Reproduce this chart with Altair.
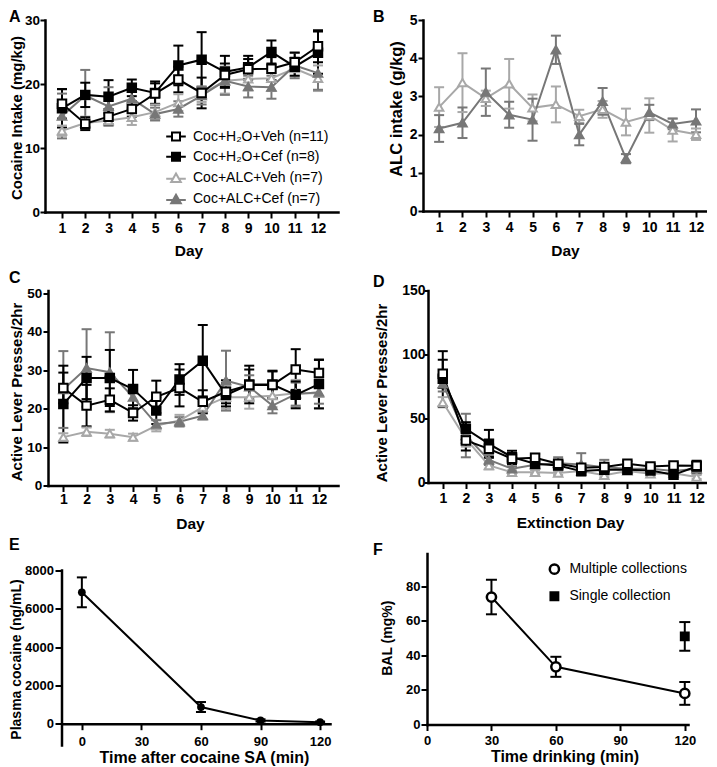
import altair as alt
import pandas as pd

FONT = "Liberation Sans"

# ---------------- shared series definitions ----------------
SERIES = ["Coc+H₂O+Veh (n=11)", "Coc+H₂O+Cef (n=8)", "Coc+ALC+Veh (n=7)", "Coc+ALC+Cef (n=7)"]
SERIES_STROKE = ["#000000", "#000000", "#a8a8a8", "#777777"]
SERIES_FILL = ["#ffffff", "#000000", "#ffffff", "#777777"]
SERIES_SHAPE = ["square", "square", "triangle-up", "triangle-up"]
LEGEND_SHAPE = [
    "M-2.45,0H-1M1,0H2.45M-1,-1H1V1H-1Z",
    "M-2.45,0H-1M1,0H2.45M-1,-1H1V1H-1Z",
    "M-2.45,0.15H-0.6M0.6,0.15H2.45M0,-1.15L1.2,0.95H-1.2Z",
    "M-2.45,0.15H-0.6M0.6,0.15H2.45M0,-1.15L1.2,0.95H-1.2Z",
]

DAYS = list(range(1, 13))

# ---------------- Panel A: cocaine intake (mg/kg) ----------------
A_H2O_VEH = [16.9, 13.8, 14.9, 16.1, 18.5, 20.7, 18.6, 21.4, 22.3, 22.4, 23.4, 25.9]
A_H2O_VEH_SEM = [2.3, 1.0, 1.2, 1.2, 1.6, 2.0, 2.4, 1.8, 1.6, 1.8, 1.5, 2.5]
A_H2O_CEF = [16.2, 18.3, 18.0, 19.4, 18.6, 22.9, 23.8, 21.9, 22.6, 25.0, 22.7, 24.9]
A_H2O_CEF_SEM = [3.0, 1.9, 2.6, 1.3, 1.8, 3.1, 4.3, 2.5, 1.8, 1.8, 1.4, 3.3]
A_ALC_VEH = [12.7, 13.9, 14.3, 14.8, 15.6, 17.1, 18.4, 20.5, 20.8, 20.9, 22.4, 20.9]
A_ALC_VEH_SEM = [0.8, 1.0, 0.8, 1.2, 1.2, 1.3, 1.2, 2.0, 1.8, 2.0, 1.2, 2.0]
A_ALC_CEF = [15.0, 18.2, 16.5, 17.7, 15.3, 16.1, 18.2, 20.5, 19.6, 19.5, 22.9, 21.7]
A_ALC_CEF_SEM = [3.5, 4.0, 3.0, 1.5, 1.0, 1.2, 1.4, 2.2, 1.7, 1.8, 2.0, 2.6]

# ---------------- Panel B: ALC intake (g/kg) ----------------
B_ALC_VEH = [2.72, 3.36, 2.95, 3.33, 2.70, 2.79, 2.48, 2.66, 2.33, 2.50, 2.12, 2.01]
B_ALC_VEH_SEM = [0.52, 0.77, 0.20, 0.65, 0.35, 0.47, 0.17, 0.22, 0.35, 0.45, 0.30, 0.15]
B_ALC_CEF = [2.16, 2.31, 3.11, 2.52, 2.39, 4.22, 2.00, 2.87, 1.37, 2.58, 2.28, 2.36]
B_ALC_CEF_SEM = [0.35, 0.40, 0.62, 0.34, 0.55, 0.37, 0.28, 0.35, 0.12, 0.20, 0.14, 0.30]

# ---------------- Panel C: active lever presses (SA) ----------------
C_H2O_VEH = [25.4, 20.8, 22.3, 18.9, 23.1, 25.4, 21.8, 24.4, 26.2, 26.2, 30.2, 29.3]
C_H2O_VEH_SEM = [4.0, 5.4, 3.0, 2.0, 4.2, 4.8, 3.0, 3.0, 4.0, 3.5, 5.3, 3.5]
C_H2O_CEF = [21.2, 28.0, 28.0, 25.1, 19.5, 27.6, 32.5, 23.6, 26.3, 26.3, 23.6, 26.4]
C_H2O_CEF_SEM = [10.0, 5.5, 7.3, 5.0, 3.5, 4.0, 9.3, 3.0, 4.9, 3.6, 3.5, 6.3]
C_ALC_VEH = [12.6, 14.0, 13.5, 12.6, 15.6, 16.9, 20.4, 23.0, 23.0, 23.4, 24.0, 24.0]
C_ALC_VEH_SEM = [1.0, 1.1, 1.0, 0.9, 1.5, 1.5, 1.5, 3.0, 3.0, 3.0, 3.5, 4.0]
C_ALC_CEF = [25.0, 30.6, 29.5, 23.0, 16.0, 16.6, 18.2, 27.3, 25.7, 20.8, 23.8, 24.3]
C_ALC_CEF_SEM = [10.0, 10.1, 10.4, 3.0, 1.0, 1.2, 1.0, 7.8, 3.0, 2.0, 3.0, 3.0]

# ---------------- Panel D: active lever presses (extinction) ----------------
D_H2O_VEH = [84.9, 32.8, 26.3, 18.5, 19.3, 14.6, 11.5, 12.1, 14.6, 12.5, 13.3, 13.0]
D_H2O_VEH_SEM = [11.0, 7.8, 6.0, 4.0, 3.0, 3.0, 2.0, 2.0, 2.0, 2.0, 2.0, 3.0]
D_H2O_CEF = [81.0, 41.9, 30.2, 19.8, 14.6, 13.3, 8.9, 10.0, 10.0, 9.4, 6.0, 12.5]
D_H2O_CEF_SEM = [21.6, 5.2, 10.9, 5.0, 3.0, 3.0, 2.0, 2.0, 2.0, 2.0, 1.5, 4.5]
D_ALC_VEH = [62.7, 34.0, 13.3, 8.0, 8.0, 7.4, 8.9, 5.6, 8.9, 6.8, 7.3, 4.3]
D_ALC_VEH_SEM = [4.0, 6.0, 3.0, 1.5, 1.5, 1.5, 1.5, 1.5, 1.5, 1.5, 1.5, 1.5]
D_ALC_CEF = [77.1, 36.7, 17.7, 10.7, 13.8, 15.0, 14.1, 12.0, 10.7, 10.7, 8.9, 10.7]
D_ALC_CEF_SEM = [6.0, 17.0, 4.0, 2.0, 3.0, 4.8, 8.8, 5.7, 3.0, 3.0, 3.0, 4.0]

# ---------------- Panel E: plasma cocaine ----------------
E_TIME = [0, 60, 90, 120]
E_MEAN = [6860, 870, 170, 80]
E_SEM = [780, 260, 60, 30]
E_XDOM = [-10, 125]
E_YDOM = [-1140, 8888]
E_YTICKS = [0, 2000, 4000, 6000, 8000]

# ---------------- Panel F: BAL ----------------
F_GROUPS = ["Multiple collections", "Single collection"]
F_SHAPES = ["circle", "square"]
F_FILLS = ["#ffffff", "#000000"]
F_SIZES = [85, 55]
F_MULTI_TIME = [30, 60, 120]
F_MULTI_MEAN = [73.8, 33.4, 18.0]
F_MULTI_SEM = [10.0, 5.8, 6.6]
F_SINGLE_TIME = [120]
F_SINGLE_MEAN = [51.0]
F_SINGLE_SEM = [8.3]


def series_df(x, groups):
    rows = []
    for name, means, sems in groups:
        for xi, mi, si in zip(x, means, sems):
            rows.append({"g": name, "x": xi, "m": mi, "lo": mi - si, "hi": mi + si})
    return pd.DataFrame(rows)


def title_params(letter, dx, offset):
    return alt.TitleParams(text=letter, anchor="start", frame="group", fontSize=16,
                           font=FONT, fontWeight="bold", color="black", dx=dx, offset=offset)


def group_panel(letter, groups, xdom, ydom, yvals, w, h, ytitle, xtitle,
                xax_kw, yax_kw, tdx, toff, legend=None):
    df = series_df(DAYS, groups)
    xsc = alt.Scale(domain=xdom, nice=False, zero=False)
    ysc = alt.Scale(domain=ydom, nice=False, zero=False)
    xax = alt.Axis(values=DAYS, title=xtitle, labelOverlap=False, labelFlush=False, **xax_kw)
    yax = alt.Axis(values=yvals, title=ytitle, labelOverlap=False, labelFlush=False, **yax_kw)
    X = alt.X("x:Q", scale=xsc, axis=xax)

    def Y(f):
        return alt.Y(f"{f}:Q", scale=ysc, axis=yax)

    stroke = alt.Stroke("g:N", scale=alt.Scale(domain=SERIES, range=SERIES_STROKE), legend=None)
    color = alt.Color("g:N", scale=alt.Scale(domain=SERIES, range=SERIES_STROKE), legend=None)
    fill = alt.Fill("g:N", scale=alt.Scale(domain=SERIES, range=SERIES_FILL), legend=None)
    shape = alt.Shape("g:N", scale=alt.Scale(domain=SERIES, range=SERIES_SHAPE), legend=None)
    base = alt.Chart(df)
    rules = base.mark_rule(strokeWidth=2).encode(x=X, y=Y("lo"), y2=alt.Y2("hi:Q"), stroke=stroke)
    cap_lo = base.mark_tick(orient="horizontal", size=10, thickness=2, opacity=1).encode(x=X, y=Y("lo"), color=color)
    cap_hi = base.mark_tick(orient="horizontal", size=10, thickness=2, opacity=1).encode(x=X, y=Y("hi"), color=color)
    line = base.mark_line(strokeWidth=2).encode(x=X, y=Y("m"), stroke=stroke)
    pts = base.mark_point(opacity=1, size=72, strokeWidth=2, filled=False).encode(
        x=X, y=Y("m"), stroke=stroke, fill=fill, shape=shape)
    layers = [rules, cap_lo, cap_hi, line, pts]
    if legend is not None:
        leg = base.transform_filter("false").mark_point(opacity=1, size=64, strokeWidth=2).encode(
            x=X, y=Y("m"),
            stroke=alt.Stroke("g:N", scale=alt.Scale(domain=SERIES, range=SERIES_STROKE), legend=legend),
            fill=alt.Fill("g:N", scale=alt.Scale(domain=SERIES, range=SERIES_FILL), legend=legend),
            shape=alt.Shape("g:N", scale=alt.Scale(domain=SERIES, range=LEGEND_SHAPE), legend=legend),
        )
        layers.append(leg)
    return alt.layer(*layers).resolve_scale(
        stroke="independent", fill="independent", shape="independent", color="independent"
    ).properties(width=w, height=h, title=title_params(letter, tdx, toff))


def spacer(w):
    return alt.Chart(pd.DataFrame({"v": [0]})).mark_point(opacity=0, size=1).properties(width=w, height=1)


ORDER4 = lambda veh, veh_s, cef, cef_s, aveh, aveh_s, acef, acef_s: [
    (SERIES[2], aveh, aveh_s), (SERIES[3], acef, acef_s), (SERIES[1], cef, cef_s), (SERIES[0], veh, veh_s)]

LEG_A = alt.Legend(title=None, orient="none", legendX=124, legendY=109.5, labelFont=FONT,
                   labelFontSize=14, labelFontWeight="normal", labelColor="black", labelLimit=400,
                   symbolSize=64, symbolStrokeWidth=2, rowPadding=4.3, labelOffset=10, padding=0,
                   symbolFillColor="#ffffff", symbolStrokeColor="#000000")

panel_a = group_panel(
    "A", ORDER4(A_H2O_VEH, A_H2O_VEH_SEM, A_H2O_CEF, A_H2O_CEF_SEM, A_ALC_VEH, A_ALC_VEH_SEM, A_ALC_CEF, A_ALC_CEF_SEM),
    [0.27, 12.86], [0, 30], [0, 10, 20, 30], 293, 192, "Cocaine Intake (mg/kg)", "Day",
    dict(titleX=143.5, titleY=43, labelPadding=14.3, tickSize=6, labelFontSize=14, titleFontSize=15.5),
    dict(titleX=-21, titleY=97.5, labelPadding=0.5, tickSize=5, labelFontSize=13.5, titleFontSize=15),
    -36, -11.5, legend=LEG_A)

panel_b = group_panel(
    "B", [(SERIES[2], B_ALC_VEH, B_ALC_VEH_SEM), (SERIES[3], B_ALC_CEF, B_ALC_CEF_SEM)],
    [0.31, 12.47], [0, 5], [0, 1, 2, 3, 4, 5], 284, 191, "ALC intake (g/kg)", "Day",
    dict(titleX=142, titleY=44, labelPadding=14, tickSize=6, labelFontSize=14, titleFontSize=15.5),
    dict(titleX=-19, titleY=88.5, labelPadding=1, tickSize=5, labelFontSize=14, titleFontSize=16.5),
    -50, -11.5)

panel_c = group_panel(
    "C", ORDER4(C_H2O_VEH, C_H2O_VEH_SEM, C_H2O_CEF, C_H2O_CEF_SEM, C_ALC_VEH, C_ALC_VEH_SEM, C_ALC_CEF, C_ALC_CEF_SEM),
    [0.34, 12.82], [0, 50.78], [0, 10, 20, 30, 40, 50], 290, 195, "Active Lever Presses/2hr", "Day",
    dict(titleX=142, titleY=43, labelPadding=12.3, tickSize=6, labelFontSize=14, titleFontSize=15.5),
    dict(titleX=-24, titleY=101, labelPadding=1.3, tickSize=5, labelFontSize=13.5, titleFontSize=15),
    -39, 0.5)

panel_d = group_panel(
    "D", ORDER4(D_H2O_VEH, D_H2O_VEH_SEM, D_H2O_CEF, D_H2O_CEF_SEM, D_ALC_VEH, D_ALC_VEH_SEM, D_ALC_CEF, D_ALC_CEF_SEM),
    [0.36, 12.45], [0, 150], [0, 50, 100, 150], 279, 192, "Active Lever Presses/2hr", "Extinction Day",
    dict(titleX=142, titleY=45, labelPadding=13.7, tickSize=6, labelFontSize=14, titleFontSize=15.5),
    dict(titleX=-38.5, titleY=102, labelPadding=-1, tickSize=4, labelFontSize=14, titleFontSize=15),
    -55, -6.5)

# ---------------- Panel E ----------------
e_df = pd.DataFrame({"x": E_TIME, "m": E_MEAN,
                     "lo": [m - s for m, s in zip(E_MEAN, E_SEM)],
                     "hi": [m + s for m, s in zip(E_MEAN, E_SEM)]})
e_axis_df = pd.DataFrame({"x": [E_XDOM[0]], "lo": [E_YDOM[0]], "hi": [E_YTICKS[-1]]})
e_x = alt.X("x:Q", scale=alt.Scale(domain=E_XDOM, nice=False, zero=False),
            axis=alt.Axis(values=[0, 30, 60, 90, 120], title="Time after cocaine SA (min)", offset=-21.8,
                          titleX=142, titleY=38.7, labelPadding=15.5, tickSize=6, labelFontSize=13,
                          titleFontSize=16, labelFlush=False))
e_ysc = alt.Scale(domain=E_YDOM, nice=False, zero=False)
e_yax = alt.Axis(values=E_YTICKS, format="d", title="Plasma cocaine  (ng/mL)", titleX=-39, domain=False,
                 titleY=105.5, labelPadding=1.5, tickSize=7, labelFontSize=13, titleFontSize=14, labelFlush=False)
e_base = alt.Chart(e_df)
panel_e = alt.layer(
    alt.Chart(e_axis_df).mark_rule(strokeWidth=2.5, color="black", strokeCap="square").encode(
        x=e_x, y=alt.Y("lo:Q", scale=e_ysc, axis=e_yax), y2="hi:Q"),
    e_base.mark_rule(strokeWidth=2, color="black").encode(x=e_x, y=alt.Y("lo:Q", scale=e_ysc, axis=e_yax), y2="hi:Q"),
    e_base.mark_tick(orient="horizontal", size=10, thickness=2, color="black", opacity=1).encode(
        x=e_x, y=alt.Y("lo:Q", scale=e_ysc, axis=e_yax)),
    e_base.mark_tick(orient="horizontal", size=10, thickness=2, color="black", opacity=1).encode(
        x=e_x, y=alt.Y("hi:Q", scale=e_ysc, axis=e_yax)),
    e_base.mark_line(strokeWidth=2, color="black").encode(x=e_x, y=alt.Y("m:Q", scale=e_ysc, axis=e_yax)),
    e_base.mark_point(filled=True, size=60, color="black", opacity=1).encode(
        x=e_x, y=alt.Y("m:Q", scale=e_ysc, axis=e_yax)),
).properties(width=268, height=192, title=title_params("E", -53, 0.5))

# ---------------- Panel F ----------------
f_df = pd.concat([
    series_df(F_MULTI_TIME, [(F_GROUPS[0], F_MULTI_MEAN, F_MULTI_SEM)]),
    series_df(F_SINGLE_TIME, [(F_GROUPS[1], F_SINGLE_MEAN, F_SINGLE_SEM)]),
], ignore_index=True)
f_x = alt.X("x:Q", scale=alt.Scale(domain=[0, 121.5], nice=False, zero=False),
            axis=alt.Axis(values=[0, 30, 60, 90, 120], title="Time drinking (min)", titleX=137.5, titleY=37,
                          labelPadding=13.7, tickSize=6, labelFontSize=13, titleFontSize=16, labelFlush=False))
f_ysc = alt.Scale(domain=[0, 99], nice=False, zero=False)
f_yax = alt.Axis(values=[0, 20, 40, 60, 80], title="BAL (mg%)", titleX=-32.5, titleY=84.2,
                 labelPadding=1, tickSize=6, labelFontSize=13, titleFontSize=14, labelFlush=False)
LEG_F = alt.Legend(title=None, orient="none", legendX=120.4, legendY=8.7, labelFont=FONT,
                   labelFontSize=14, labelFontWeight="normal", labelColor="black", labelLimit=400,
                   symbolStrokeWidth=2.5, rowPadding=8, labelOffset=8, padding=0,
                   symbolFillColor="#ffffff", symbolStrokeColor="#000000")
f_base = alt.Chart(f_df)
f_pts = f_base.mark_point(opacity=1, strokeWidth=2.5, stroke="black", filled=False).encode(
    x=f_x, y=alt.Y("m:Q", scale=f_ysc, axis=f_yax),
    shape=alt.Shape("g:N", scale=alt.Scale(domain=F_GROUPS, range=F_SHAPES), legend=LEG_F),
    fill=alt.Fill("g:N", scale=alt.Scale(domain=F_GROUPS, range=F_FILLS), legend=LEG_F),
    size=alt.Size("g:N", scale=alt.Scale(domain=F_GROUPS, range=F_SIZES), legend=LEG_F),
)
panel_f = alt.layer(
    f_base.mark_rule(strokeWidth=2, color="black").encode(x=f_x, y=alt.Y("lo:Q", scale=f_ysc, axis=f_yax), y2="hi:Q"),
    f_base.mark_tick(orient="horizontal", size=11, thickness=2, color="black", opacity=1).encode(
        x=f_x, y=alt.Y("lo:Q", scale=f_ysc, axis=f_yax)),
    f_base.mark_tick(orient="horizontal", size=11, thickness=2, color="black", opacity=1).encode(
        x=f_x, y=alt.Y("hi:Q", scale=f_ysc, axis=f_yax)),
    f_base.transform_filter(alt.datum.g == F_GROUPS[0]).mark_line(strokeWidth=2, color="black").encode(
        x=f_x, y=alt.Y("m:Q", scale=f_ysc, axis=f_yax)),
    f_pts,
).resolve_scale(shape="independent", fill="independent", size="independent").properties(
    width=261, height=171, title=title_params("F", -54, -4.5))

# ---------------- layout ----------------
row1 = alt.hconcat(panel_a, spacer(85), panel_b, spacing=0, bounds="flush")
row2 = alt.hconcat(spacer(3), panel_c, spacer(90), panel_d, spacing=0, bounds="flush")
row3 = alt.hconcat(spacer(17), panel_e, spacer(97), panel_f, spacing=0, bounds="flush")

chart = alt.vconcat(row1, alt.vconcat(row2, row3, spacing=4), spacing=10.5).properties(padding=0).configure(
    font=FONT
).configure_view(stroke=None).configure_axis(
    domainColor="black", domainWidth=2.5, domainCap="square", tickColor="black", tickWidth=2,
    labelColor="black", labelFont=FONT, labelFontWeight="bold", titleFont=FONT,
    titleFontWeight="bold", titleColor="black", grid=False
).configure_axisX(
    labelBaseline="alphabetic", titleBaseline="alphabetic", titleAlign="center"
).configure_axisY(
    titleAngle=270, titleBaseline="bottom", titleAlign="center"
)

chart.save("out.html", embed_options={"renderer": "svg", "actions": False})
